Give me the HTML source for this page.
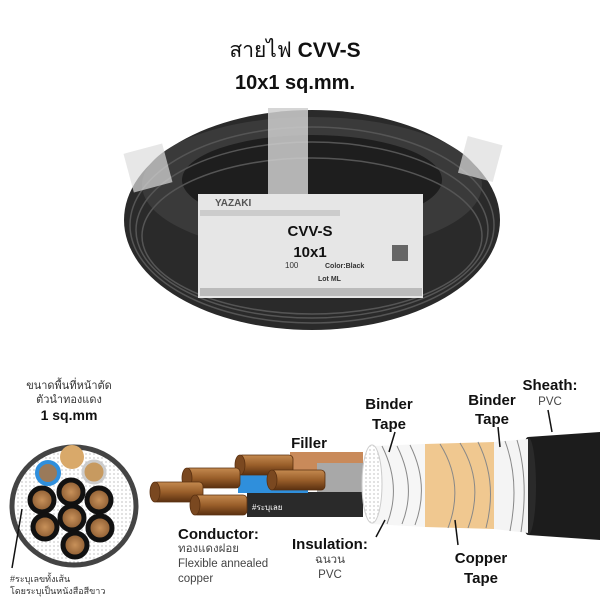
<!DOCTYPE html>
<html><head><meta charset="utf-8"><style>
body{margin:0;width:600px;height:600px;background:#fff;overflow:hidden;font-family:"Liberation Sans","Noto Sans CJK SC",sans-serif}
svg{display:block}
</style></head><body>
<svg width="600" height="600" viewBox="0 0 600 600" font-family="Liberation Sans, Noto Sans CJK SC, sans-serif">
<defs>
<pattern id="dots" width="4" height="4" patternUnits="userSpaceOnUse"><rect width="4" height="4" fill="#fff"/><circle cx="2" cy="2" r="0.6" fill="#999"/></pattern>
<radialGradient id="cu"><stop offset="0" stop-color="#c8915a"/><stop offset="1" stop-color="#8a5a30"/></radialGradient>
<linearGradient id="wire" x1="0" y1="0" x2="0" y2="1"><stop offset="0" stop-color="#c48a50"/><stop offset="0.5" stop-color="#9a5f2a"/><stop offset="1" stop-color="#5a3010"/></linearGradient>
</defs>
<text x="295" y="57" font-size="21" text-anchor="middle" fill="#111">สายไฟ <tspan font-weight="bold">CVV-S</tspan></text>
<text x="295" y="89" font-size="20" font-weight="bold" text-anchor="middle" fill="#111">10x1 sq.mm.</text>
<!-- coil -->
<ellipse cx="312" cy="220" rx="188" ry="110" fill="#2a2a2a"/>
<ellipse cx="312" cy="185" rx="170" ry="68" fill="#3a3a3a"/>
<ellipse cx="312" cy="180" rx="130" ry="45" fill="#1e1e1e"/>
<g fill="none" stroke="#555" stroke-width="1.5">
<ellipse cx="312" cy="225" rx="182" ry="98"/><ellipse cx="312" cy="230" rx="176" ry="88"/><ellipse cx="312" cy="236" rx="170" ry="78"/>
</g>
<rect x="268" y="108" width="40" height="90" fill="#cfcfcf" opacity="0.85"/>
<rect x="128" y="148" width="40" height="40" fill="#ddd" opacity="0.7" transform="rotate(-15 148 168)"/>
<rect x="462" y="140" width="36" height="38" fill="#ddd" opacity="0.7" transform="rotate(15 480 160)"/>
<rect x="198" y="194" width="225" height="104" fill="#e6e6e6"/>
<text x="215" y="206" font-size="10" font-weight="bold" fill="#555">YAZAKI</text>
<rect x="200" y="210" width="140" height="6" fill="#ccc"/>
<text x="310" y="236" font-size="15" font-weight="bold" text-anchor="middle" fill="#111">CVV-S</text>
<text x="310" y="257" font-size="15" font-weight="bold" text-anchor="middle" fill="#111">10x1</text>
<text x="285" y="268" font-size="8" fill="#333">100</text>
<text x="325" y="268" font-size="7" font-weight="bold" fill="#333">Color:Black</text>
<text x="318" y="281" font-size="7" font-weight="bold" fill="#333">Lot ML</text>
<rect x="392" y="245" width="16" height="16" fill="#666"/>
<rect x="200" y="288" width="222" height="8" fill="#bbb"/>
<!-- cross section -->
<text x="69" y="389" font-size="11" text-anchor="middle" fill="#333">ขนาดพื้นที่หน้าตัด</text>
<text x="69" y="403" font-size="11" text-anchor="middle" fill="#333">ตัวนำทองแดง</text>
<text x="69" y="420" font-size="14" font-weight="bold" text-anchor="middle" fill="#111">1 sq.mm</text>
<ellipse cx="74" cy="506" rx="62" ry="59" fill="url(#dots)" stroke="#444" stroke-width="5"/>
<circle cx="72" cy="457" r="12" fill="#d9a96a"/>
<circle cx="48" cy="473" r="11" fill="#9a7a5a" stroke="#2f8fdc" stroke-width="4"/>
<circle cx="94" cy="472" r="11" fill="#c79a60" stroke="#ccc" stroke-width="3"/>
<g fill="url(#cu)" stroke="#111" stroke-width="5">
<circle cx="42" cy="500" r="12"/><circle cx="71" cy="492" r="12"/><circle cx="99" cy="500" r="12"/>
<circle cx="45" cy="527" r="12"/><circle cx="72" cy="518" r="12"/><circle cx="100" cy="528" r="12"/><circle cx="75" cy="545" r="12"/>
</g>
<line x1="22" y1="509" x2="12" y2="568" stroke="#111" stroke-width="1.5"/>
<text x="10" y="582" font-size="9" fill="#333">#ระบุเลขทั้งเส้น</text>
<text x="10" y="594" font-size="9" fill="#333">โดยระบุเป็นหนังสือสีขาว</text>
<!-- cable -->
<path d="M528 437 L600 432 L600 540 L528 535 Z" fill="#1c1c1c"/>
<ellipse cx="528" cy="486" rx="8" ry="49" fill="#2a2a2a"/>
<path d="M494 442 L528 439 L528 533 L494 529 Z" fill="#f4f4f4"/>
<path d="M425 444 L494 442 L494 529 L425 527 Z" fill="#f0c890"/>
<path d="M372 446 L425 444 L425 527 L372 524 Z" fill="#f6f6f6"/>
<g stroke="#888" stroke-width="1" fill="none">
<path d="M382 446 q20 40 5 78"/><path d="M397 446 q20 40 5 78"/><path d="M410 445 q20 40 5 80"/>
<path d="M440 444 q25 40 8 84"/><path d="M460 443 q25 40 8 85"/><path d="M478 442 q20 40 8 86"/>
<path d="M505 441 q15 40 5 90"/><path d="M517 440 q12 40 4 92"/>
</g>
<path d="M290 452 L363 452 L363 470 L290 470 Z" fill="#c98a5a"/>
<path d="M317 463 L363 463 L363 497 L317 497 Z" fill="#a8a8a8"/>
<path d="M247 492 L363 492 L363 517 L247 517 Z" fill="#2a2a2a"/>
<path d="M238 475 L308 475 L308 493 L238 493 Z" fill="#2f8fdc"/>
<ellipse cx="372" cy="484" rx="10" ry="39" fill="url(#dots)" stroke="#ccc"/>
<text x="252" y="510" font-size="8" fill="#fff">#ระบุเลย</text>
<g stroke="#5a3010" stroke-width="0.8">
<rect x="238" y="455" width="55" height="20" rx="4" fill="url(#wire)"/><ellipse cx="240" cy="465" rx="5" ry="10" fill="#7a4820"/>
<rect x="185" y="468" width="55" height="20" rx="4" fill="url(#wire)"/><ellipse cx="187" cy="478" rx="5" ry="10" fill="#7a4820"/>
<rect x="153" y="482" width="50" height="20" rx="4" fill="url(#wire)"/><ellipse cx="155" cy="492" rx="5" ry="10" fill="#7a4820"/>
<rect x="270" y="470" width="55" height="20" rx="4" fill="url(#wire)"/><ellipse cx="272" cy="480" rx="5" ry="10" fill="#7a4820"/>
<rect x="193" y="495" width="54" height="20" rx="4" fill="url(#wire)"/><ellipse cx="195" cy="505" rx="5" ry="10" fill="#7a4820"/>
</g>
<!-- labels -->
<g fill="#111" font-weight="bold" font-size="15">
<text x="309" y="448" text-anchor="middle">Filler</text>
<text x="389" y="409" text-anchor="middle">Binder</text><text x="389" y="429" text-anchor="middle">Tape</text>
<text x="492" y="405" text-anchor="middle">Binder</text><text x="492" y="424" text-anchor="middle">Tape</text>
<text x="550" y="390" text-anchor="middle">Sheath:</text>
<text x="178" y="539">Conductor:</text>
<text x="292" y="549">Insulation:</text>
<text x="481" y="563" text-anchor="middle">Copper</text><text x="481" y="583" text-anchor="middle">Tape</text>
</g>
<g fill="#444" font-size="11.5">
<text x="550" y="405" text-anchor="middle">PVC</text>
<text x="178" y="552">ทองแดงฝอย</text>
<text x="178" y="567">Flexible annealed</text>
<text x="178" y="582">copper</text>
<text x="330" y="563" text-anchor="middle">ฉนวน</text>
<text x="330" y="578" text-anchor="middle">PVC</text>
</g>
<g stroke="#111" stroke-width="1.5">
<line x1="395" y1="432" x2="389" y2="452"/>
<line x1="498" y1="427" x2="500" y2="447"/>
<line x1="548" y1="410" x2="552" y2="432"/>
<line x1="376" y1="537" x2="385" y2="520"/>
<line x1="455" y1="520" x2="458" y2="545"/>
</g>
</svg>
</body></html>
